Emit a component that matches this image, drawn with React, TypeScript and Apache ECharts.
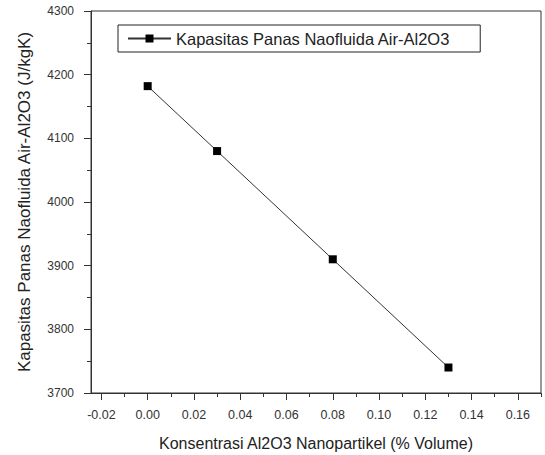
import React, { useEffect, useRef } from "react";
import * as echarts from "echarts";

const seriesName = "Kapasitas Panas Naofluida Air-Al2O3";
const concentration = [0.0, 0.03, 0.08, 0.13];
const heatCapacity = [4182, 4080, 3910, 3740];
const xMajorTicks = [-0.02, 0.0, 0.02, 0.04, 0.06, 0.08, 0.1, 0.12, 0.14, 0.16];
const xMinorTicks = [-0.01, 0.01, 0.03, 0.05, 0.07, 0.09, 0.11, 0.13, 0.15, 0.17];
const xTitle = "Konsentrasi Al2O3 Nanopartikel (% Volume)";
const yTitle = "Kapasitas Panas Naofluida Air-Al2O3 (J/kgK)";

const X_MIN = -0.0245;
const X_MAX = 0.17;
const Y_MIN = 3700;
const Y_MAX = 4300;
const Y_INTERVAL = 100;

export default function App() {
  const ref = useRef<HTMLDivElement>(null);

  useEffect(() => {
    if (!ref.current) return;
    const chart = echarts.init(ref.current, null, { renderer: "svg" });
    const font = "'Liberation Sans', Arial, sans-serif";
    const axisColor = "#333";

    chart.setOption({
      animation: false,
      backgroundColor: "#fff",
      textStyle: { fontFamily: font },
      grid: {
        left: 91,
        right: 4,
        top: 11,
        bottom: 62,
        show: true,
        borderColor: axisColor,
        borderWidth: 1,
        outerBoundsMode: "none",
        containLabel: false,
      },
      legend: {
        data: [seriesName],
        left: 118,
        top: 25,
        orient: "horizontal",
        itemWidth: 43,
        itemHeight: 10,
        itemGap: 5,
        padding: [5, 30, 5, 9],
        borderColor: "#222",
        borderWidth: 1,
        textStyle: { fontSize: 16.5, color: "#222", fontFamily: font },
      },
      xAxis: [
        {
          type: "value",
          min: X_MIN,
          max: X_MAX,
          position: "bottom",
          name: xTitle,
          nameLocation: "middle",
          nameGap: 42,
          nameTextStyle: { fontSize: 16, color: "#222", fontFamily: font },
          axisLine: { show: true, onZero: false, lineStyle: { color: axisColor, width: 1 } },
          axisTick: {
            show: true,
            inside: false,
            length: 7,
            customValues: xMajorTicks,
            lineStyle: { color: axisColor, width: 1 },
          },
          axisLabel: {
            show: true,
            customValues: xMajorTicks,
            margin: 15,
            fontSize: 12.5,
            color: "#333",
            fontFamily: font,
            formatter: (v: number) => v.toFixed(2),
          },
          splitLine: { show: false },
        },
        {
          type: "value",
          min: X_MIN,
          max: X_MAX,
          position: "bottom",
          axisLine: { show: false, onZero: false },
          axisTick: {
            show: true,
            inside: false,
            length: 4,
            customValues: xMinorTicks,
            lineStyle: { color: axisColor, width: 1 },
          },
          axisLabel: { show: false },
          splitLine: { show: false },
        },
      ],
      yAxis: {
        type: "value",
        min: Y_MIN,
        max: Y_MAX,
        interval: Y_INTERVAL,
        name: yTitle,
        nameLocation: "middle",
        nameGap: 58,
        nameTextStyle: { fontSize: 17, color: "#222", fontFamily: font },
        axisLine: { show: true, onZero: false, lineStyle: { color: axisColor, width: 1 } },
        axisTick: { show: true, inside: false, length: 7, lineStyle: { color: axisColor, width: 1 } },
        minorTick: { show: true, splitNumber: 2, length: 4, lineStyle: { color: axisColor, width: 1 } },
        axisLabel: {
          margin: 17,
          fontSize: 12,
          color: "#333",
          fontFamily: font,
          formatter: (v: number) => String(v),
        },
        splitLine: { show: false },
        minorSplitLine: { show: false },
      },
      series: [
        {
          name: seriesName,
          type: "line",
          xAxisIndex: 0,
          data: concentration.map((x, i) => [x, heatCapacity[i]]),
          symbol: "rect",
          symbolSize: 8,
          itemStyle: { color: "#000" },
          lineStyle: { color: "#333", width: 1 },
        },
      ],
    });

    return () => chart.dispose();
  }, []);

  return (
    <div
      ref={ref}
      style={{ position: "fixed", left: 0, top: 0, width: 545, height: 455 }}
    />
  );
}
